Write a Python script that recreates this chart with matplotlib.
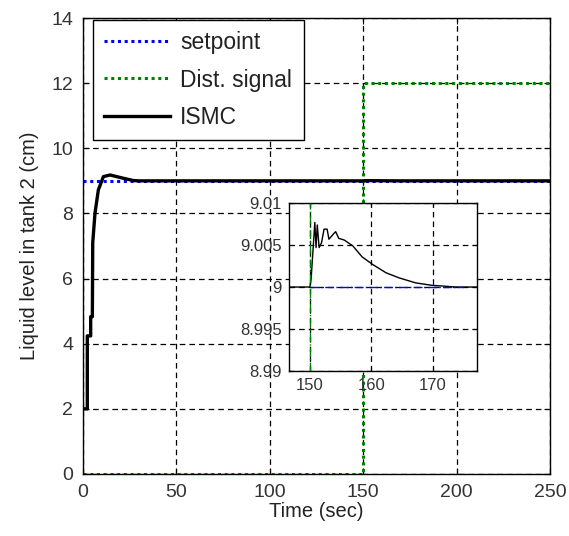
import matplotlib
matplotlib.use("Agg")
import matplotlib.pyplot as plt

plt.rcParams['font.family'] = ['Liberation Sans', 'DejaVu Sans']

# Tank-2 liquid level response (ISMC controller)
t_ismc = [0, 2.3, 2.3, 4.1, 4.1, 5.0, 5.2, 6.4, 8.2, 10.9, 14.5, 18.0, 21.6, 26.9, 30.0,
          150.0, 150.2, 150.8, 151.0, 151.2, 151.5, 151.9, 152.3, 152.8, 153.1, 153.8,
          154.2, 154.7, 155.6, 157.0, 158.5, 160.2, 162.4, 164.5, 167.2, 169.9, 172.0,
          173.7, 250.0]
y_ismc = [2.0, 2.0, 4.24, 4.24, 4.83, 4.83, 7.1, 8.0, 8.72, 9.13, 9.18, 9.13, 9.08, 9.01, 9.0,
          9.0, 9.001, 9.0077, 9.0047, 9.0074, 9.0047, 9.0053, 9.0069, 9.0069, 9.0057, 9.0063,
          9.0066, 9.0058, 9.0056, 9.0049, 9.0036, 9.0027, 9.0017, 9.0011, 9.0005, 9.0002, 9.0001,
          9.0, 9.0]

# Setpoint and disturbance signal
t_set = [0, 250]
y_set = [9, 9]
t_dist = [0, 150, 150, 250]
y_dist = [0, 0, 12, 12]

# Inset window
t_set_in = [150, 175]
y_set_in = [9, 9]
t_dist_in = [150, 150]
y_dist_in = [8.99, 9.01]

x_ticks = [0, 50, 100, 150, 200, 250]
y_ticks = [0, 2, 4, 6, 8, 10, 12, 14]
x_ticks_in = [150, 160, 170]
y_ticks_in = [8.99, 8.995, 9, 9.005, 9.01]
y_ticklabels_in = ['8.99', '8.995', '9', '9.005', '9.01']

grid_style = (0, (4.5, 3.2))

fig = plt.figure(figsize=(5.69, 5.36), dpi=100)
ax = fig.add_axes([0.1459, 0.1157, 0.8207, 0.8507])

ax.plot(t_set, y_set, color='blue', linestyle=(0, (1, 1.2)), lw=2.2, label='setpoint')
ax.plot(t_dist, y_dist, color='green', linestyle=(0, (1, 1.2)), lw=2.2, label='Dist. signal')
ax.plot(t_ismc, y_ismc, color='black', lw=2.4, label='ISMC')

ax.set_xlim(0, 250)
ax.set_ylim(0, 14)
ax.set_xticks(x_ticks)
ax.set_yticks(y_ticks)
ax.tick_params(direction='in', top=True, right=True, labelsize=14, length=4, pad=7,
               colors='black')
for lbl in ax.get_xticklabels() + ax.get_yticklabels():
    lbl.set_color('#333333')
ax.grid(True, color='black', linestyle=grid_style, lw=0.9)
for s in ax.spines.values():
    s.set_linewidth(1.0)
ax.set_xlabel('Time (sec)', fontsize=14.5, color='#222222', labelpad=1)
ax.set_ylabel('Liquid level in tank 2 (cm)', fontsize=14.5, color='#222222', labelpad=9)

leg = ax.legend(loc='upper left', bbox_to_anchor=(0.021, 0.996), borderaxespad=0,
                fontsize=16.5, handlelength=2.87, labelspacing=0.62, fancybox=False,
                framealpha=1, edgecolor='black', borderpad=0.5, handletextpad=0.45)
leg.get_frame().set_linewidth(1.0)
for txt in leg.get_texts():
    txt.set_color('#222222')

# Inset zoom on the disturbance rejection
axi = fig.add_axes([0.508, 0.308, 0.330, 0.313])
axi.plot(t_ismc, y_ismc, color='black', lw=1.0, zorder=2)
axi.plot(t_set_in, y_set_in, color='blue', linestyle='-.', lw=1.0, zorder=3)
axi.plot(t_dist_in, y_dist_in, color='green', linestyle='-.', lw=1.0, zorder=3)
axi.set_xlim(146.6, 177.2)
axi.set_ylim(8.99, 9.01)
axi.set_xticks(x_ticks_in)
axi.set_yticks(y_ticks_in)
axi.set_yticklabels(y_ticklabels_in)
axi.tick_params(direction='in', top=True, right=True, labelsize=12, length=3, pad=5)
for lbl in axi.get_xticklabels() + axi.get_yticklabels():
    lbl.set_color('#333333')
axi.grid(True, color='black', linestyle=grid_style, lw=0.9)
for s in axi.spines.values():
    s.set_linewidth(1.0)

fig.savefig('out.png', dpi=100)
